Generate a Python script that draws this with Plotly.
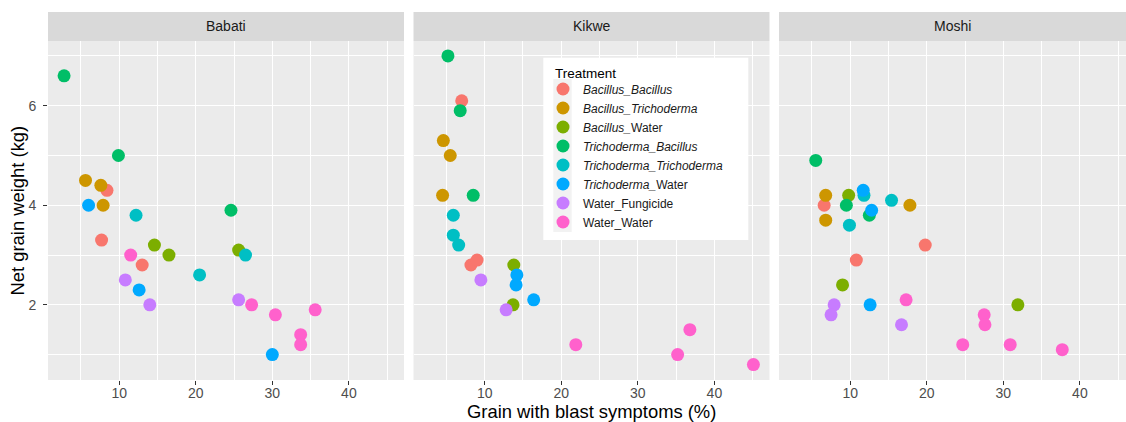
import plotly.graph_objects as go

# ---------------- data ----------------
treatments = ["Bacillus_Bacillus", "Bacillus_Trichoderma", "Bacillus_Water",
              "Trichoderma_Bacillus", "Trichoderma_Trichoderma", "Trichoderma_Water",
              "Water_Fungicide", "Water_Water"]
legend_labels = ["<i>Bacillus_Bacillus</i>", "<i>Bacillus_Trichoderma</i>", "<i>Bacillus_</i>Water",
                 "<i>Trichoderma_Bacillus</i>", "<i>Trichoderma_Trichoderma</i>", "<i>Trichoderma_</i>Water",
                 "Water_Fungicide", "Water_Water"]
colors = ["#F8766D", "#CD9600", "#7CAE00", "#00BE67", "#00BFC4", "#00A9FF", "#C77CFF", "#FF61CC"]
sites = ["Babati", "Kikwe", "Moshi"]

babati_trt = ["Bacillus_Bacillus"] * 3 + ["Bacillus_Trichoderma"] * 3 + ["Bacillus_Water"] * 3 + \
             ["Trichoderma_Bacillus"] * 3 + ["Trichoderma_Trichoderma"] * 3 + ["Trichoderma_Water"] * 3 + \
             ["Water_Fungicide"] * 3 + ["Water_Water"] * 6
babati_x = [8.4, 7.7, 13.0, 5.6, 7.6, 7.9, 14.6, 16.5, 25.6, 2.8, 9.9, 24.6,
            12.2, 20.5, 26.5, 6.0, 12.6, 30.0, 10.8, 14.0, 25.6,
            11.5, 27.3, 30.4, 35.6, 33.7, 33.7]
babati_y = [4.3, 3.3, 2.8, 4.5, 4.4, 4.0, 3.2, 3.0, 3.1, 6.6, 5.0, 3.9,
            3.8, 2.6, 3.0, 4.0, 2.3, 1.0, 2.5, 2.0, 2.1,
            3.0, 2.0, 1.8, 1.9, 1.4, 1.2]

kikwe_trt = ["Bacillus_Bacillus"] * 3 + ["Bacillus_Trichoderma"] * 3 + ["Bacillus_Water"] * 2 + \
            ["Trichoderma_Bacillus"] * 3 + ["Trichoderma_Trichoderma"] * 3 + ["Trichoderma_Water"] * 3 + \
            ["Water_Fungicide"] * 2 + ["Water_Water"] * 4
kikwe_x = [7.0, 8.2, 9.0, 4.6, 5.5, 4.5, 13.8, 13.7, 5.2, 6.8, 8.5,
           5.9, 5.9, 6.6, 14.2, 14.1, 16.4, 9.5, 12.8,
           21.9, 36.8, 35.2, 45.1]
kikwe_y = [6.1, 2.8, 2.9, 5.3, 5.0, 4.2, 2.8, 2.0, 7.0, 5.9, 4.2,
           3.8, 3.4, 3.2, 2.6, 2.4, 2.1, 2.5, 1.9,
           1.2, 1.5, 1.0, 0.8]

moshi_trt = ["Bacillus_Bacillus"] * 3 + ["Bacillus_Trichoderma"] * 3 + ["Bacillus_Water"] * 3 + \
            ["Trichoderma_Bacillus"] * 3 + ["Trichoderma_Trichoderma"] * 3 + ["Trichoderma_Water"] * 3 + \
            ["Water_Fungicide"] * 3 + ["Water_Water"] * 6
moshi_x = [6.6, 10.8, 19.8, 6.8, 6.8, 17.8, 9.8, 9.0, 31.9, 5.5, 9.5, 12.5,
           11.8, 15.4, 9.9, 11.7, 12.8, 12.6, 7.9, 7.5, 16.7,
           17.3, 27.5, 27.6, 24.7, 30.9, 37.7]
moshi_y = [4.0, 2.9, 3.2, 4.2, 3.7, 4.0, 4.2, 2.4, 2.0, 4.9, 4.0, 3.8,
           4.2, 4.1, 3.6, 4.3, 3.9, 2.0, 2.0, 1.8, 1.6,
           2.1, 1.8, 1.6, 1.2, 1.2, 1.1]

x_title = "Grain with blast symptoms (%)"
y_title = "Net grain weight (kg)"
legend_title = "Treatment"

# ---------------- layout geometry (pixels) ----------------
W, H = 1126, 422
ML, MR, MT, MB = 48, 0, 41, 42
PW, PH = W - ML - MR, H - MT - MB


def px(x):
    return (x - ML) / PW


def py(y):
    return (H - MB - y) / PH


panels_px = [(48, 404), (413.5, 769.5), (779, 1126)]
xranges = [[0.7, 47.2], [0.7, 47.2], [0.7, 0.7 + 347 / 7.656]]
yrange = [0.49, 7.30]
FONT = "Liberation Sans, Arial, sans-serif"

fig = go.Figure()
site_data = [(babati_x, babati_y, babati_trt), (kikwe_x, kikwe_y, kikwe_trt), (moshi_x, moshi_y, moshi_trt)]
for si, (xs, ys, ts) in enumerate(site_data):
    xa = "x" if si == 0 else f"x{si + 1}"
    ya = "y" if si == 0 else f"y{si + 1}"
    for ti, trt in enumerate(treatments):
        sx = [x for x, t in zip(xs, ts) if t == trt]
        sy = [y for y, t in zip(ys, ts) if t == trt]
        fig.add_trace(go.Scatter(
            x=sx, y=sy, mode="markers", xaxis=xa, yaxis=ya,
            name=legend_labels[ti], legendgroup=trt, showlegend=(si == 0),
            marker=dict(color=colors[ti], size=13, line=dict(width=0)),
            hoverinfo="skip"))

axis_common = dict(
    showline=False, zeroline=False, showgrid=True, gridcolor="white", gridwidth=1.2,
    ticks="outside", ticklen=4, tickcolor="#333333", tickwidth=1,
    tickfont=dict(family=FONT, size=14, color="#4D4D4D"),
)
layout = dict(
    width=W, height=H, margin=dict(l=ML, r=MR, t=MT, b=MB),
    paper_bgcolor="white", plot_bgcolor="#EBEBEB",
    font=dict(family=FONT),
    showlegend=True,
    legend=dict(
        x=px(543), y=py(74.5), xanchor="left", yanchor="top",
        bgcolor="rgba(0,0,0,0)", borderwidth=0,
        font=dict(family=FONT, size=12, color="#1A1A1A"),
        itemsizing="trace", tracegroupgap=0,
    ),
)
for i, ((a, b), xr) in enumerate(zip(panels_px, xranges)):
    key = "xaxis" if i == 0 else f"xaxis{i + 1}"
    layout[key] = dict(
        axis_common, domain=[px(a), px(b)], range=xr, anchor="y" if i == 0 else f"y{i + 1}",
        tickmode="array", tickvals=[10, 20, 30, 40], ticktext=["10", "20", "30", "40"],
        ticklabelstandoff=-4,
        minor=dict(tickmode="array", tickvals=[5, 15, 25, 35, 45], showgrid=True,
                   gridcolor="white", gridwidth=0.6, ticklen=0),
    )
    ykey = "yaxis" if i == 0 else f"yaxis{i + 1}"
    yd = dict(
        axis_common, domain=[0, 1], range=yrange, anchor="x" if i == 0 else f"x{i + 1}",
        tickmode="array", tickvals=[2, 4, 6], ticktext=["2", "4", "6"],
        ticklabelstandoff=4,
        minor=dict(tickmode="array", tickvals=[1, 3, 5, 7], showgrid=True,
                   gridcolor="white", gridwidth=0.6, ticklen=0),
    )
    if i > 0:
        yd.update(showticklabels=False, ticks="", matches="y")
    layout[ykey] = yd

shapes = []
annotations = []
for (a, b), name in zip(panels_px, sites):
    shapes.append(dict(type="rect", xref="paper", yref="paper", x0=px(a), x1=px(b),
                       y0=py(41), y1=py(12), fillcolor="#D9D9D9", line=dict(width=0), layer="above"))
    annotations.append(dict(text=name, xref="paper", yref="paper", x=px((a + b) / 2), y=py(26.5),
                            xanchor="center", yanchor="middle", showarrow=False,
                            font=dict(family=FONT, size=14, color="#1A1A1A")))
# legend box and key background
shapes.append(dict(type="rect", xref="paper", yref="paper", x0=px(543.3), x1=px(748.3),
                   y0=py(240), y1=py(57.7), fillcolor="white", line=dict(width=0), layer="above"))
shapes.append(dict(type="rect", xref="paper", yref="paper", x0=px(553.3), x1=px(571.7),
                   y0=py(232), y1=py(79), fillcolor="#F2F2F2", line=dict(width=0), layer="above"))
annotations.append(dict(text=legend_title, xref="paper", yref="paper", x=px(553), y=py(73),
                        xanchor="left", yanchor="middle", showarrow=False,
                        font=dict(family=FONT, size=13.5, color="#000000")))

annotations.append(dict(text=x_title, xref="paper", yref="paper", x=px(591.5), y=py(411),
                        xanchor="center", yanchor="middle", showarrow=False,
                        font=dict(family=FONT, size=18.4, color="#000000")))
annotations.append(dict(text=y_title, xref="paper", yref="paper", x=px(17), y=py(210.5),
                        xanchor="center", yanchor="middle", showarrow=False, textangle=-90,
                        font=dict(family=FONT, size=18.4, color="#000000")))
layout["shapes"] = shapes
layout["annotations"] = annotations
fig.update_layout(**layout)
fig.write_html("out.html")
